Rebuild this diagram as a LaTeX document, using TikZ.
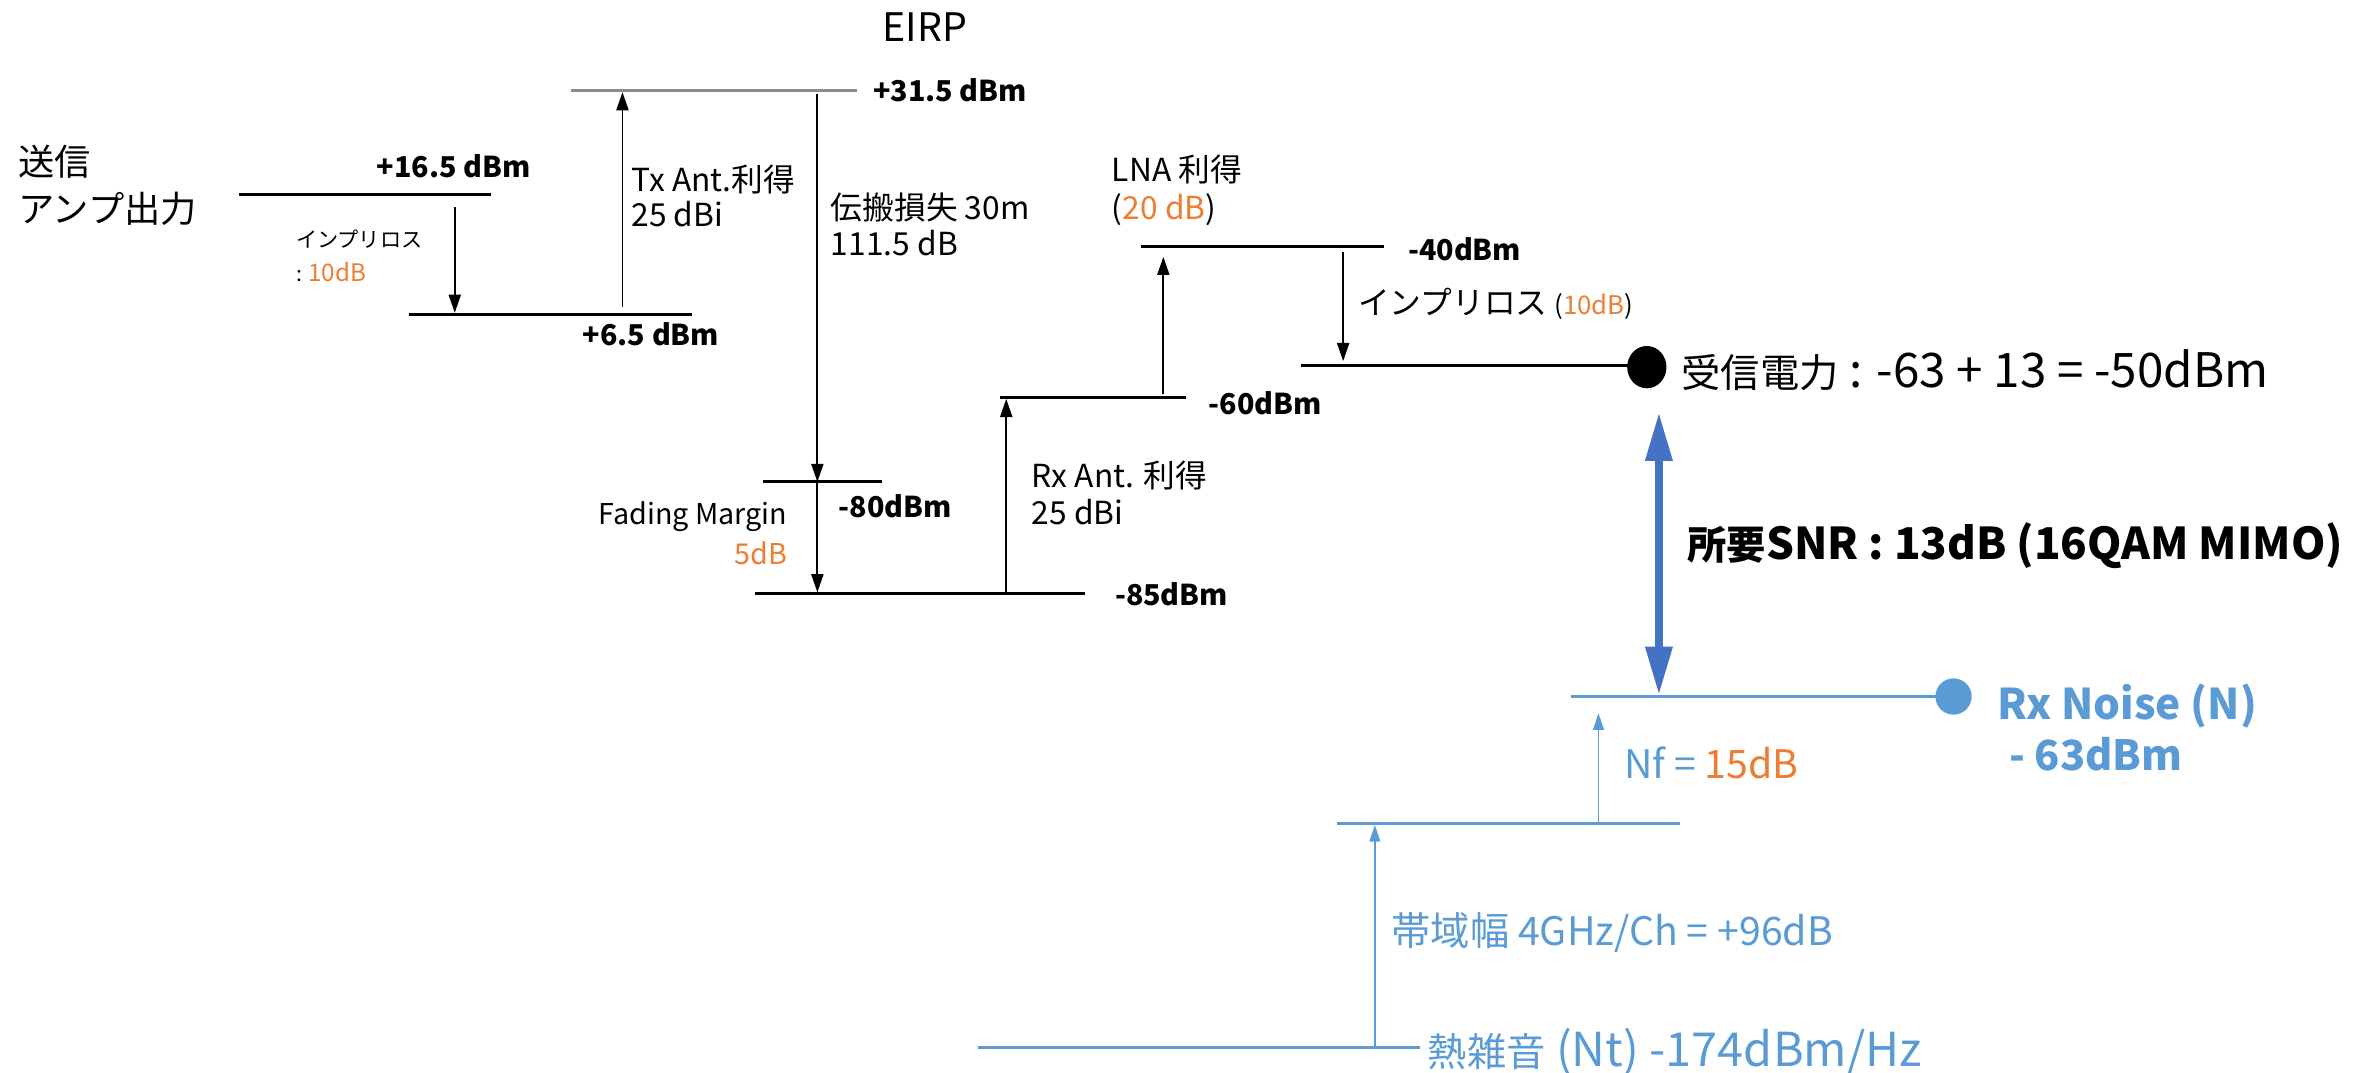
\documentclass[tikz,border=0pt]{standalone}
\usepackage{fontspec}
\setmainfont{Noto Sans CJK JP}
\usetikzlibrary{arrows.meta,shapes.geometric}
\definecolor{orng}{HTML}{ED7D31}
\definecolor{nblue}{HTML}{5B9BD5}
\definecolor{dblue}{HTML}{4472C4}
\definecolor{lgray}{HTML}{8C8C8C}
\newcommand{\fsz}[1]{\fontsize{#1}{#1}\selectfont}
\tikzset{
  levelline/.style={line width=2pt},
  blueline/.style={line width=2pt, draw=nblue},
  gainarrow/.style={line width=1.2pt, -{Triangle[length=12pt,width=8pt]}},
  bluearrow/.style={line width=1.2pt, draw=nblue, -{Triangle[length=11pt,width=7pt]}, nblue},
  snrarrow/.style={line width=5pt, draw=dblue, {Triangle[length=32pt,width=17pt]}-{Triangle[length=32pt,width=17pt]}},
  txt/.style={inner sep=0pt, outer sep=0pt},
  smtxt/.style={txt, font=\fsz{14}},
  fmtxt/.style={txt, font=\fsz{19}},
  mdtxt/.style={txt, font=\fsz{21}},
  bigtxt/.style={txt, font=\fsz{24}},
  lgtxt/.style={txt, font=\fsz{26}},
  lgbold/.style={txt, font=\fsz{26}\bfseries},
  valtxt/.style={txt, font=\fsz{19}\bfseries},
}
\begin{document}
\begin{tikzpicture}[x=1pt,y=-1pt]
\useasboundingbox (0,0) rectangle (1568,710);

% ---- level lines (coordinates) ----
\coordinate (a1) at (158,129); \coordinate (b1) at (325,129);
\coordinate (a2) at (271,208); \coordinate (b2) at (458,208);
\coordinate (a3) at (378,60);  \coordinate (b3) at (567,60);
\coordinate (a4) at (505,319); \coordinate (b4) at (584,319);
\coordinate (a5) at (500,393); \coordinate (b5) at (718,393);
\coordinate (a6) at (662,263); \coordinate (b6) at (785,263);
\coordinate (a7) at (755,163); \coordinate (b7) at (916,163);
\coordinate (a8) at (861,242);
\node[ellipse, fill=black, minimum width=26pt, minimum height=28pt, inner sep=0pt] (rxdot) at (1090,243) {};
\coordinate (n1) at (1040,461);
\node[circle, fill=nblue, minimum size=24pt, inner sep=0pt] (nzdot) at (1293,461) {};
\coordinate (n2a) at (885,545); \coordinate (n2b) at (1112,545);
\coordinate (n3a) at (647,693); \coordinate (n3b) at (940,693);

\draw[levelline] (a1) -- (b1);
\draw[levelline] (a2) -- (b2);
\draw[levelline, draw=lgray] (a3) -- (b3);
\draw[levelline] (a4) -- (b4);
\draw[levelline] (a5) -- (b5);
\draw[levelline] (a6) -- (b6);
\draw[levelline] (a7) -- (b7);
\draw[levelline] (a8) -- (a8 -| rxdot.center);
\draw[blueline] (n1) -- (nzdot.center);
\draw[blueline] (n2a) -- (n2b);
\draw[blueline] (n3a) -- (n3b);

% ---- arrows ----
\coordinate (s1) at (301,137); \coordinate (e1) at (301,207);
\coordinate (s2) at (412,203); \coordinate (e2) at (412,61);
\coordinate (s3) at (541,62);  \coordinate (e3) at (541,319);
\coordinate (s4) at (541,320); \coordinate (e4) at (541,392);
\coordinate (s5) at (666,392); \coordinate (e5) at (666,264);
\coordinate (s6) at (770,261); \coordinate (e6) at (770,170);
\coordinate (s7) at (889,167); \coordinate (e7) at (889,239);
\coordinate (s8) at (1098,273); \coordinate (e8) at (1098,460);
\coordinate (s9) at (1058,544); \coordinate (e9) at (1058,472);
\coordinate (s10) at (910,692); \coordinate (e10) at (910,546);

\draw[gainarrow] (s1) -- (e1);
\draw[gainarrow] (s2) -- (e2);
\draw[gainarrow] (s3) -- (e3);
\draw[gainarrow] (s4) -- (e4);
\draw[gainarrow] (s5) -- (e5);
\draw[gainarrow] (s6) -- (e6);
\draw[gainarrow] (s7) -- (e7);
\draw[snrarrow] (s8) -- (e8);
\draw[bluearrow] (s9) -- (e9);
\draw[bluearrow] (s10) -- (e10);

% ---- texts ----
\node[lgtxt] (eirp) at (612,18) {EIRP};
\node[valtxt, anchor=west] (v315) at (578,60) {+31.5 dBm};
\node[bigtxt, anchor=west] (tx1) at (12,107) {送信};
\node[bigtxt, anchor=west] (tx2) at (12,138) {アンプ出力};
\node[valtxt, anchor=east] (v165) at (351,110) {+16.5 dBm};
\node[smtxt, anchor=west] (il1a) at (196,158) {インプリロス};
\node[smtxt, anchor=west] (il1b) at (196,180) {: {\fsz{16}\textcolor{orng}{10dB}}};
\node[valtxt, anchor=east] (v65) at (476,221) {+6.5 dBm};
\node[mdtxt, anchor=west] (txa) at (418,119) {Tx Ant.利得};
\node[mdtxt, anchor=west] (txb) at (418,142) {25 dBi};
\node[mdtxt, anchor=west] (pla) at (550,137) {伝搬損失 30m};
\node[mdtxt, anchor=west] (plb) at (550,161) {111.5 dB};
\node[valtxt, anchor=west] (v80) at (555,335) {-80dBm};
\node[fmtxt, anchor=east] (fma) at (521,342) {Fading Margin};
\node[fmtxt, anchor=east] (fmb) at (521,366) {\textcolor{orng}{5dB}};
\node[valtxt, anchor=west] (v85) at (738,393) {-85dBm};
\node[mdtxt, anchor=west] (rxa) at (683,315) {Rx Ant. 利得};
\node[mdtxt, anchor=west] (rxb) at (683,339) {25 dBi};
\node[valtxt, anchor=west] (v60) at (800,267) {-60dBm};
\node[mdtxt, anchor=west] (lnaa) at (736,112) {LNA 利得};
\node[mdtxt, anchor=west] (lnab) at (736,139) {(\textcolor{orng}{20 dB})};
\node[valtxt, anchor=west] (v40) at (932,165) {-40dBm};
\node[mdtxt, anchor=west] (il2) at (899,201) {インプリロス {\fsz{17}(\textcolor{orng}{10dB})}};
\node[lgtxt, anchor=west] (rxp) at (1113,245) {受信電力{\fsz{31.5} : -63 + 13 = -50dBm}};
\node[lgbold, anchor=west] (snr) at (1117,361) {所要{\fsz{29}SNR : 13dB (16QAM MIMO)}};
\node[lgbold, text=nblue, anchor=west, font=\fsz{28}\bfseries] (rxn1) at (1322,467) {Rx Noise (N)};
\node[lgbold, text=nblue, anchor=west, font=\fsz{27.5}\bfseries] (rxn2) at (1330,499) {- 63dBm};
\node[lgtxt, text=nblue, anchor=west] (nf) at (1075,505) {Nf = \textcolor{orng}{15dB}};
\node[lgtxt, text=nblue, anchor=west] (bw) at (921,617) {帯域幅 4GHz/Ch = +96dB};
\node[lgtxt, text=nblue, anchor=west] (nt) at (945,696) {熱雑音{\fsz{31} (Nt) -174dBm/Hz}};
\end{tikzpicture}
\end{document}
